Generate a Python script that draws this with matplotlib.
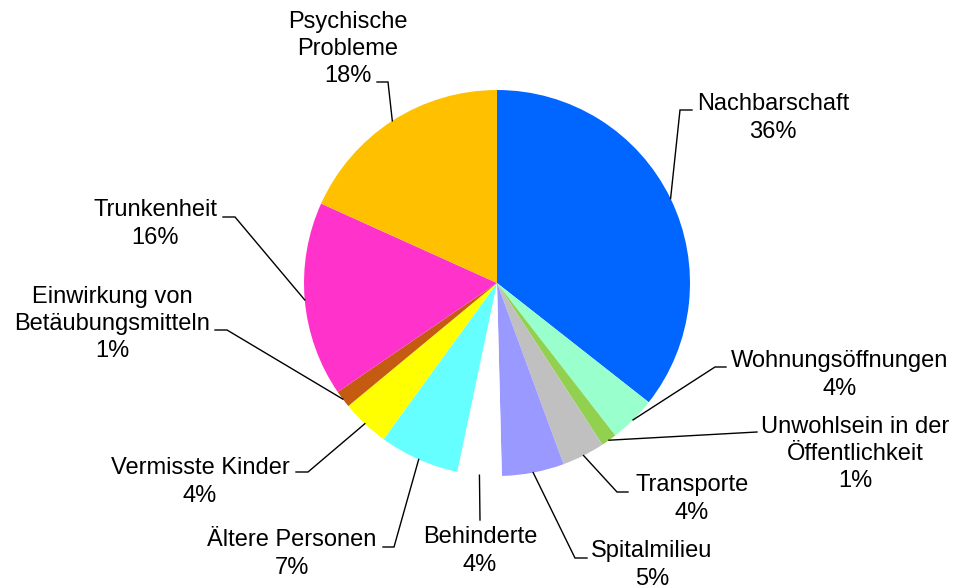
import matplotlib
matplotlib.use("Agg")
import matplotlib.pyplot as plt
import numpy as np

# ---- data ----
categories = ["Nachbarschaft", "Wohnungsöffnungen", "Unwohlsein in der\nÖffentlichkeit",
              "Transporte", "Spitalmilieu", "Behinderte", "Ältere Personen",
              "Vermisste Kinder", "Einwirkung von\nBetäubungsmitteln", "Trunkenheit",
              "Psychische\nProbleme"]
shares = [35.6, 3.9, 1.3, 3.6, 5.2, 3.7, 6.7, 4.0, 1.45, 16.3, 18.25]
colors = ["#0066FF", "#99FFCC", "#92D050", "#C0C0C0", "#9999FF", "#FFFFFF",
          "#66FFFF", "#FFFF00", "#C55A11", "#FF33CC", "#FFC000"]

# ---- layout (pixel coordinates, y measured from top) ----
W, H = 957, 588
pie_center = (497, 283)
pie_radius = 193
# label block centre (x, y), leader end near text (x, y), elbow offset in x
label_pos = [(773, 118), (840, 375), (855, 454), (692, 499), (652, 565),
             (480, 551), (292, 554), (200, 482), (112, 324), (155, 224), (348, 49)]
leader_end = [(692, 110), (726, 367), (757, 432), (628, 492), (587, 558),
              (480, 520), (383, 547), (296, 472), (215, 330), (223, 217), (377, 82)]
elbow_dx = [-12, -11, 0, -11, -12, 0, 11, 12, 12, 12, 11]

plt.rcParams['font.family'] = ['Liberation Sans', 'DejaVu Sans']

fig = plt.figure(figsize=(W / 100, H / 100), dpi=100)
ax = fig.add_axes([0, 0, 1, 1])

cx, cy = pie_center[0], H - pie_center[1]
wedges, _ = ax.pie(shares, colors=colors, startangle=90, counterclock=False,
                   center=(cx, cy), radius=pie_radius,
                   wedgeprops=dict(linewidth=0))
ax.set_xlim(0, W)
ax.set_ylim(0, H)
ax.set_aspect('equal')
ax.axis('off')

for w, name, val, (tx, ty), (lx, ly), dx in zip(wedges, categories, shares,
                                                  label_pos, leader_end, elbow_dx):
    mid = np.deg2rad((w.theta1 + w.theta2) / 2)
    ax_x = cx + pie_radius * np.cos(mid)
    ax_y = cy + pie_radius * np.sin(mid)
    ly_d = H - ly
    xs = [ax_x, lx + dx, lx]
    ys = [ax_y, ly_d, ly_d]
    ax.plot(xs, ys, color="#000000", lw=1.0, solid_joinstyle='miter')
    ax.text(tx, H - ty, f"{name}\n{val:.0f}%", ha='center', va='center',
            multialignment='center', fontsize=17, color='#000000', linespacing=1.32)

fig.savefig("out.png", dpi=100)
